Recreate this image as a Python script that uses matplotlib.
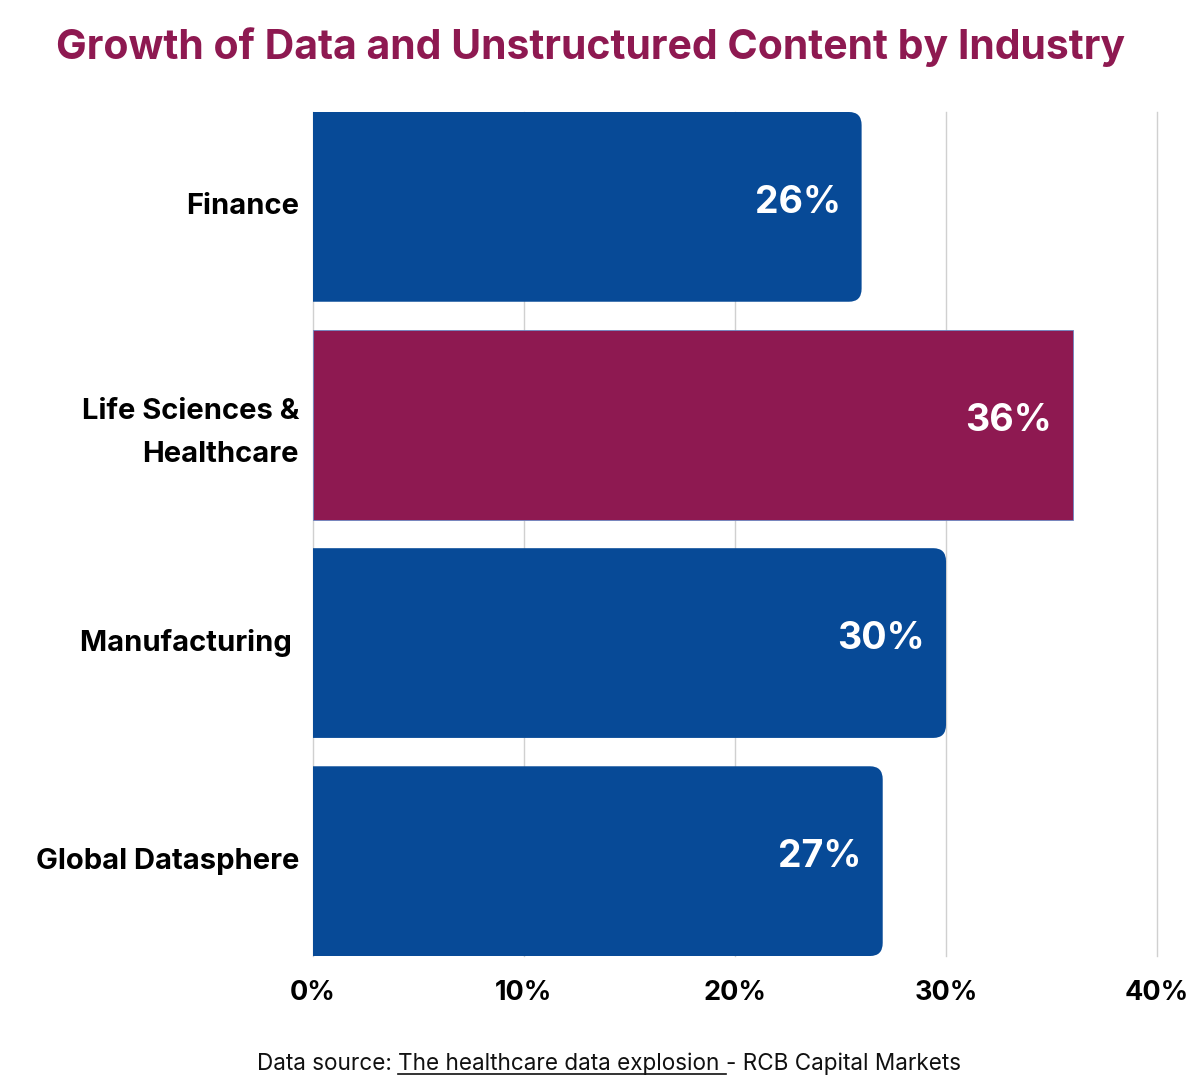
import matplotlib.pyplot as plt
import matplotlib.transforms as mtransforms
from matplotlib.patches import FancyBboxPatch
from matplotlib.lines import Line2D

plt.rcParams['font.family'] = ['Inter', 'DejaVu Sans']

industries = ['Finance', 'Life Sciences &\nHealthcare', 'Manufacturing ', 'Global Datasphere']
growth = [26, 36, 30, 27]
highlight = 'Life Sciences &\nHealthcare'
ticks = [0, 10, 20, 30, 40]
tick_labels = ['0%', '10%', '20%', '30%', '40%']

blue = '#074A97'
maroon = '#8E1951'

fig = plt.figure(figsize=(12, 10.8), dpi=100)
ax = fig.add_axes([0.2608, 0.1148, 0.7034, 0.7815])

bar_h = 0.87
ypos = list(range(len(industries)))
radius = 0.6  # in % units

colors = [maroon if n == highlight else blue for n in industries]
bars = ax.barh(ypos, growth, height=bar_h, color=colors, zorder=3,
               edgecolor='#6a86c2', linewidth=0.6)

for bar, name, val in zip(bars, industries, growth):
    if name != highlight:
        # swap the plain bar for one with a rounded right end;
        # the left end starts past the axis and gets clipped
        bx, by, bw, bh = bar.get_x(), bar.get_y(), bar.get_width(), bar.get_height()
        bar.set_visible(False)
        patch = FancyBboxPatch((bx - 3 * radius, by), bw + 3 * radius, bh,
                               boxstyle=f'round,pad=0,rounding_size={radius}',
                               mutation_aspect=0.1,
                               facecolor=blue, edgecolor='none', zorder=3)
        ax.add_patch(patch)
    ax.text(val - 1.0, bar.get_y() + bar_h / 2 - 0.02, f'{val}%', color='white',
            fontsize=27, fontweight='bold', ha='right', va='center', zorder=4)

ax.set_xlim(0, 40)
ax.set_ylim(len(industries) - 1 + bar_h / 2, -bar_h / 2)
ax.set_xticks(ticks)
ax.set_xticklabels(tick_labels, fontsize=19.5, fontweight='bold')
ax.set_yticks(ypos)
ax.set_yticklabels(industries, fontsize=21, fontweight='bold', linespacing=1.75)
ax.tick_params(axis='both', length=0)
ax.tick_params(axis='x', pad=17)
ax.tick_params(axis='y', pad=10)
shift = mtransforms.ScaledTranslation(0, 3 / 100, fig.dpi_scale_trans)
for lab in ax.get_yticklabels():
    lab.set_transform(lab.get_transform() + shift)
ax.grid(axis='x', color='#d0d0d0', linewidth=1, zorder=0)
for gl in ax.get_xgridlines():
    gl.set_clip_on(False)
ax.set_axisbelow(True)
for spine in ax.spines.values():
    spine.set_visible(False)

fig.text(0.4925, 0.956, 'Growth of Data and Unstructured Content by Industry',
         color=maroon, fontsize=29.5, fontweight='bold', ha='center', va='center')

# source line, with the link part underlined
fig.canvas.draw()
renderer = fig.canvas.get_renderer()
parts = ['Data source: ', 'The healthcare data explosion ', '- RCB Capital Markets']
texts = []
widths = []
for p in parts:
    t = fig.text(0, 0.009, p, fontsize=16.2, ha='left', va='baseline', color='#111111')
    bb = t.get_window_extent(renderer)
    texts.append(t)
    widths.append(bb.width)
total = sum(widths)
x0 = 609 - total / 2
for t, w in zip(texts, widths):
    t.set_x(x0 / 1200)
    x0 += w
ul_start = (609 - total / 2 + widths[0]) / 1200
ul_end = ul_start + widths[1] / 1200
fig.add_artist(Line2D([ul_start, ul_end], [0.0055, 0.0055], color='#111111',
                      linewidth=1.2, transform=fig.transFigure))

fig.savefig('out.png', dpi=100)
